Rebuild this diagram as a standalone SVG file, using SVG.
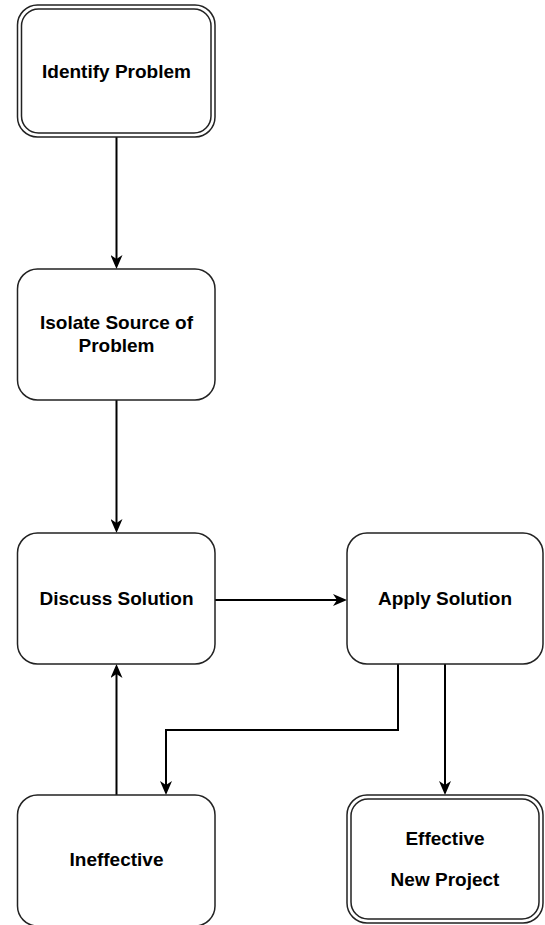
<svg xmlns="http://www.w3.org/2000/svg" width="545" height="925" viewBox="0 0 545 925">
<style>
.box{fill:#ffffff;stroke:#222222;stroke-width:1.5}
.lbl{font-family:"Liberation Sans",Arial,Helvetica,sans-serif;font-weight:bold;font-size:19px;fill:#000000;text-anchor:middle}
.edge{fill:none;stroke:#000000;stroke-width:2;marker-end:url(#arr)}
</style>
<defs>
<marker id="arr" markerUnits="userSpaceOnUse" markerWidth="14" markerHeight="12" viewBox="0 0 14 12" refX="10" refY="6" orient="auto">
<path d="M0,0 L14,6 L0,12 L4,6 Z" fill="#000000"/>
</marker>
</defs>
<rect width="545" height="925" fill="#ffffff"/>
<g id="connectors">
<path class="edge" d="M116.5,137 L116.5,265"/>
<path class="edge" d="M116.5,400 L116.5,529"/>
<path class="edge" d="M215,600 L343,600"/>
<path class="edge" d="M116.5,795 L116.5,668"/>
<path class="edge" d="M398,664 L398,730 L166,730 L166,791"/>
<path class="edge" d="M445,664 L445,791"/>
</g>
<g id="identify-problem">
<rect class="box" x="17.5" y="5" width="197.5" height="132" rx="20"/>
<rect class="box" x="21.5" y="9" width="189.5" height="124" rx="17"/>
<text class="lbl" x="116.5" y="78">Identify Problem</text>
</g>
<g id="isolate-source">
<rect class="box" x="17.5" y="269" width="197.5" height="131" rx="20"/>
<text class="lbl" x="116.5" y="329">Isolate Source of</text>
<text class="lbl" x="116.5" y="352">Problem</text>
</g>
<g id="discuss-solution">
<rect class="box" x="17.5" y="533" width="197.5" height="131" rx="20"/>
<text class="lbl" x="116.5" y="605">Discuss Solution</text>
</g>
<g id="apply-solution">
<rect class="box" x="347" y="533" width="196" height="131" rx="20"/>
<text class="lbl" x="445" y="605">Apply Solution</text>
</g>
<g id="ineffective">
<rect class="box" x="17.5" y="795" width="197.5" height="131" rx="20"/>
<text class="lbl" x="116.5" y="866">Ineffective</text>
</g>
<g id="effective">
<rect class="box" x="347" y="795" width="196" height="128" rx="20"/>
<rect class="box" x="351" y="799" width="188" height="120" rx="17"/>
<text class="lbl" x="445" y="845">Effective</text>
<text class="lbl" x="445" y="886">New Project</text>
</g>
</svg>
